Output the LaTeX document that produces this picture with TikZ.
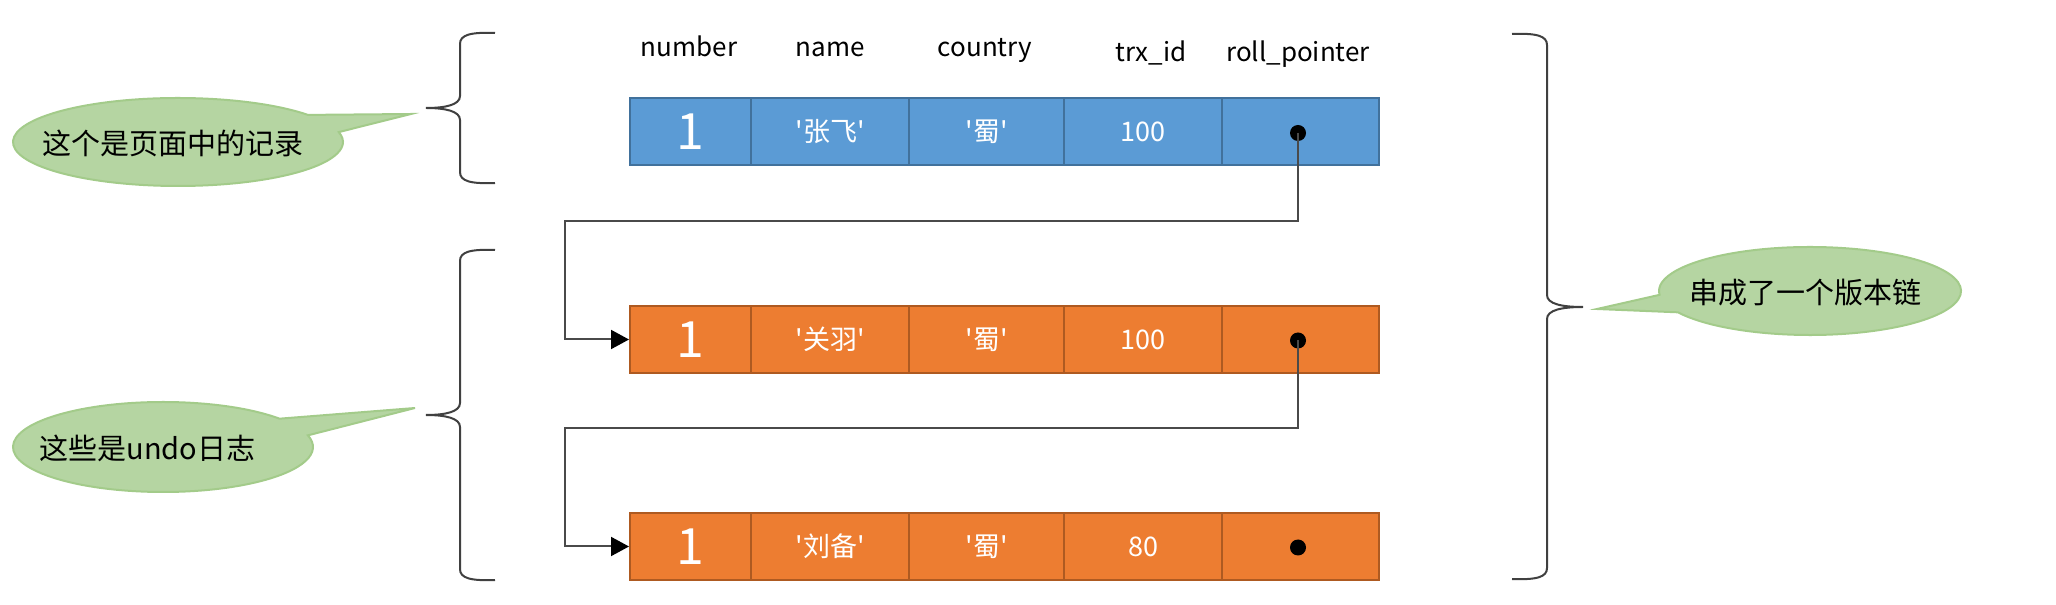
\documentclass[tikz,border=0pt]{standalone}
\usepackage{fontspec}
\newfontfamily\cjk{Noto Sans CJK SC}
\usetikzlibrary{arrows.meta}
\definecolor{bluefill}{HTML}{5B9BD5}
\definecolor{blueline}{HTML}{41719C}
\definecolor{orfill}{HTML}{ED7D31}
\definecolor{orline}{HTML}{AE5A21}
\definecolor{gfill}{HTML}{B5D5A2}
\definecolor{gline}{HTML}{A3CB8A}
\definecolor{lnk}{HTML}{4A4A4A}
\newcommand\sq{\char"27\relax}
\begin{document}
\begin{tikzpicture}[x=1pt,y=1pt,
  cell/.style={draw, line width=2pt, minimum height=67pt, inner sep=0pt, text=white, font=\cjk\fontsize{27}{31}\selectfont},
  bcell/.style={cell, fill=bluefill, draw=blueline},
  ocell/.style={cell, fill=orfill, draw=orline},
  big/.style={font=\cjk\fontsize{50}{56}\selectfont},
  hdr/.style={anchor=base, font=\cjk\fontsize{26}{30}\selectfont, text=black, inner sep=0pt},
  dotmark/.style={circle, fill=black, inner sep=0pt, minimum size=16pt},
  link/.style={draw=lnk, line width=2pt},
  arr/.style={link, -{Triangle[length=18pt,width=19pt,color=black]}},
  bracestyle/.style={draw=black!75, line width=2pt},
  bubble/.style={fill=gfill, draw=gline, line width=2pt},
  ctext/.style={font=\cjk\fontsize{29}{34}\selectfont, text=black, inner sep=0pt}]
\useasboundingbox (0,0) rectangle (2056,605);

% headers
\node[hdr] (h1) at (689,548) {number};
\node[hdr] (h2) at (830,548) {name};
\node[hdr] (h3) at (985,548) {country};
\node[hdr] (h4) at (1151,543) {trx\_id};
\node[hdr] (h5) at (1298,543) {roll\_pointer};

% row 1 (page record)
\node[bcell, minimum width=121pt, big] (a1) at (690.5,473) {1};
\node[bcell, minimum width=158pt] (a2) at (830,473) {\sq 张飞\sq};
\node[bcell, minimum width=155pt] (a3) at (986.5,473) {\sq 蜀\sq};
\node[bcell, minimum width=158pt] (a4) at (1143,473) {100};
\node[bcell, minimum width=157pt] (a5) at (1300.5,473) {};
% row 2
\node[ocell, minimum width=121pt, big] (b1) at (690.5,265.5) {1};
\node[ocell, minimum width=158pt] (b2) at (830,265.5) {\sq 关羽\sq};
\node[ocell, minimum width=155pt] (b3) at (986.5,265.5) {\sq 蜀\sq};
\node[ocell, minimum width=158pt] (b4) at (1143,265.5) {100};
\node[ocell, minimum width=157pt] (b5) at (1300.5,265.5) {};
% row 3
\node[ocell, minimum width=121pt, big] (c1) at (690.5,58.5) {1};
\node[ocell, minimum width=158pt] (c2) at (830,58.5) {\sq 刘备\sq};
\node[ocell, minimum width=155pt] (c3) at (986.5,58.5) {\sq 蜀\sq};
\node[ocell, minimum width=158pt] (c4) at (1143,58.5) {80};
\node[ocell, minimum width=157pt] (c5) at (1300.5,58.5) {};

% pointers
\node[dotmark] (d1) at (1298,472) {};
\node[dotmark] (d2) at (1298,264.5) {};
\node[dotmark] (d3) at (1298,57.5) {};
\coordinate (k1) at (565,384);
\coordinate (k2) at (565,177);
\draw[arr] (d1.center) |- (k1) |- (b1.west);
\draw[arr] (d2.center) |- (k2) |- (c1.west);

% left braces
\draw[bracestyle] (495,572) .. controls (470,573) and (460,570) .. (460,561) -- (460,509)
  .. controls (460,500) and (445,497) .. (426,497)
  .. controls (445,497) and (460,494) .. (460,485) -- (460,433)
  .. controls (460,424) and (470,421) .. (495,422);
\draw[bracestyle] (495,355) .. controls (470,356) and (460,353) .. (460,344) -- (460,202)
  .. controls (460,193) and (445,190) .. (426,190)
  .. controls (445,190) and (460,187) .. (460,178) -- (460,36)
  .. controls (460,27) and (470,24) .. (495,25);
% right brace
\draw[bracestyle] (1512,571) .. controls (1537,572) and (1547,569) .. (1547,560) -- (1547,310)
  .. controls (1547,301) and (1562,298) .. (1583,298)
  .. controls (1562,298) and (1547,295) .. (1547,286) -- (1547,37)
  .. controls (1547,28) and (1537,25) .. (1512,26);

% callouts
\draw[bubble] ({178+165*cos(38)},{463+44*sin(38)}) arc[start angle=38, end angle=373, x radius=165, y radius=44] -- (411,491) -- cycle;
\node[ctext] (t1) at (173,462) {这个是页面中的记录};
\draw[bubble] ({163+150*cos(39)},{158+45*sin(39)}) arc[start angle=39, end angle=375, x radius=150, y radius=45] -- (415,197) -- cycle;
\node[ctext] (t2) at (147.5,157) {这些是undo日志};
\draw[bubble] ({1810+151*cos(209)},{314+44*sin(209)}) arc[start angle=209, end angle=545, x radius=151, y radius=44] -- (1597,296) -- cycle;
\node[ctext] (t3) at (1805,312) {串成了一个版本链};
\end{tikzpicture}
\end{document}
